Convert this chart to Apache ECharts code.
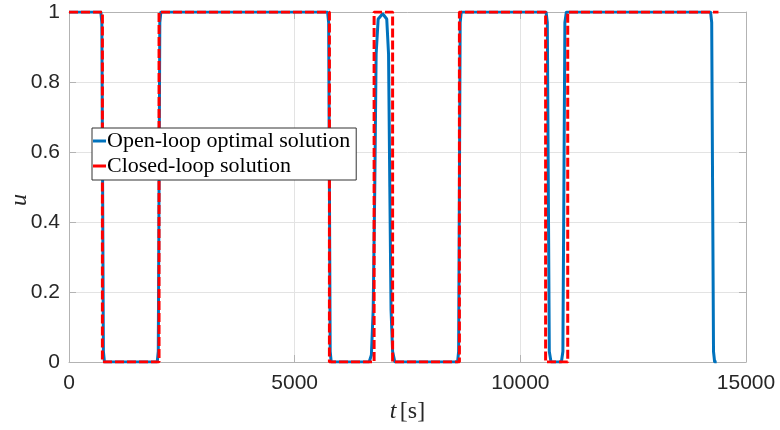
<!DOCTYPE html>
<html>
<head>
<meta charset="utf-8">
<script src="https://cdn.jsdelivr.net/npm/echarts@6/dist/echarts.min.js"></script>
<style>html,body{margin:0;padding:0;background:#fff}#c{width:780px;height:430px}</style>
</head>
<body>
<div id="c"></div>
<script>
// Data
const xTicks = [0, 5000, 10000, 15000];
const yTicks = [0, 0.2, 0.4, 0.6, 0.8, 1];
const openLoopT = [0, 705, 728, 745, 762, 785,
  1955, 1978, 1995, 2012, 2035,
  5730, 5753, 5770, 5787, 5810,
  6650, 6700, 6740, 6775, 6805, 6850, 6950, 7040, 7080, 7108, 7135, 7170, 7220,
  8610, 8633, 8650, 8667, 8690,
  10570, 10598, 10620, 10642, 10680,
  10910, 10943, 10965, 10987, 11020,
  14215, 14240, 14260, 14280, 14305, 14350];
const openLoopU = [1, 1, 0.97, 0.5, 0.03, 0,
  0, 0.03, 0.5, 0.97, 1,
  1, 0.97, 0.5, 0.03, 0,
  0, 0.02, 0.15, 0.5, 0.88, 0.98, 0.995, 0.98, 0.88, 0.5, 0.15, 0.03, 0,
  0, 0.03, 0.5, 0.97, 1,
  1, 0.97, 0.5, 0.03, 0,
  0, 0.03, 0.5, 0.97, 1,
  1, 0.97, 0.5, 0.03, 0, 0];
const closedLoopT = [0, 740, 740, 1995, 1995, 5770, 5770, 6760, 6760, 7170, 7170, 8650, 8650, 10560, 10560, 11050, 11050, 14390];
const closedLoopU = [1, 1, 0, 0, 1, 1, 0, 0, 1, 1, 0, 0, 1, 1, 0, 0, 1, 1];

const pair = (t, u) => t.map((v, i) => [v, u[i]]);
const axisGray = '#b3b3b3';
const txt = '#262626';
const chart = echarts.init(document.getElementById('c'), null, {renderer: 'canvas'});
const baseX = {type: 'value', min: 0, max: 15000, interval: 5000,
  axisLine: {show: true, onZero: false, lineStyle: {color: axisGray, width: 1}},
  axisTick: {show: true, inside: true, length: 7, lineStyle: {color: axisGray}},
  splitLine: {show: false}};
const baseY = {type: 'value', min: 0, max: 1, interval: 0.2,
  axisLine: {show: true, onZero: false, lineStyle: {color: axisGray, width: 1}},
  axisTick: {show: true, inside: true, length: 7, lineStyle: {color: axisGray}},
  splitLine: {show: false}};
chart.setOption({
  animation: false,
  grid: {left: 69, right: 34, top: 12, bottom: 68, containLabel: false, outerBoundsMode: 'none'},
  legend: {
    left: 92, top: 128, orient: 'vertical', itemGap: 3,
    padding: [2, 6, 3, 1],
    borderColor: '#333', borderWidth: 1, backgroundColor: '#fff',
    itemWidth: 13, itemHeight: 3, icon: 'rect',
    textStyle: {fontFamily: 'Liberation Serif', fontSize: 22, color: '#000', padding: [0, 0, 0, -4]},
    data: ['Open-loop optimal solution', 'Closed-loop solution']
  },
  graphic: [{
    type: 'text', x: 20, y: 200, rotation: Math.PI / 2,
    style: {text: 'u', fontFamily: 'Liberation Serif', fontStyle: 'italic', fontSize: 24, fill: txt,
      align: 'center', verticalAlign: 'middle'}
  }],
  xAxis: [
    Object.assign({}, baseX, {position: 'bottom',
      axisLabel: {show: true, margin: 11, fontFamily: 'Liberation Sans', fontSize: 21, color: txt,
        formatter: v => String(v)},
      splitLine: {show: true, lineStyle: {color: '#e3e3e3', width: 1}},
      name: '{i|t} {n|[s]}', nameLocation: 'middle', nameGap: 38,
      nameTextStyle: {rich: {i: {fontFamily: 'Liberation Serif', fontStyle: 'italic', fontSize: 24, color: txt},
        n: {fontFamily: 'Liberation Serif', fontSize: 24, color: txt}}}}),
    Object.assign({}, baseX, {position: 'top', axisLabel: {show: false}})
  ],
  yAxis: [
    Object.assign({}, baseY, {position: 'left',
      axisLabel: {show: true, margin: 9, fontFamily: 'Liberation Sans', fontSize: 21, color: txt,
        formatter: v => String(Math.round(v * 10) / 10)},
      splitLine: {show: true, lineStyle: {color: '#e3e3e3', width: 1}}}),
    Object.assign({}, baseY, {position: 'right', axisLabel: {show: false}})
  ],
  series: [
    {name: 'Open-loop optimal solution', type: 'line', data: pair(openLoopT, openLoopU),
      showSymbol: false, symbol: 'none', color: '#0072BD',
      lineStyle: {color: '#0072BD', width: 3}},
    {name: 'Closed-loop solution', type: 'line', data: pair(closedLoopT, closedLoopU),
      showSymbol: false, symbol: 'none', color: '#FF0000',
      lineStyle: {color: '#FF0000', width: 3, type: [9, 3]}}
  ]
});
</script>
</body>
</html>
